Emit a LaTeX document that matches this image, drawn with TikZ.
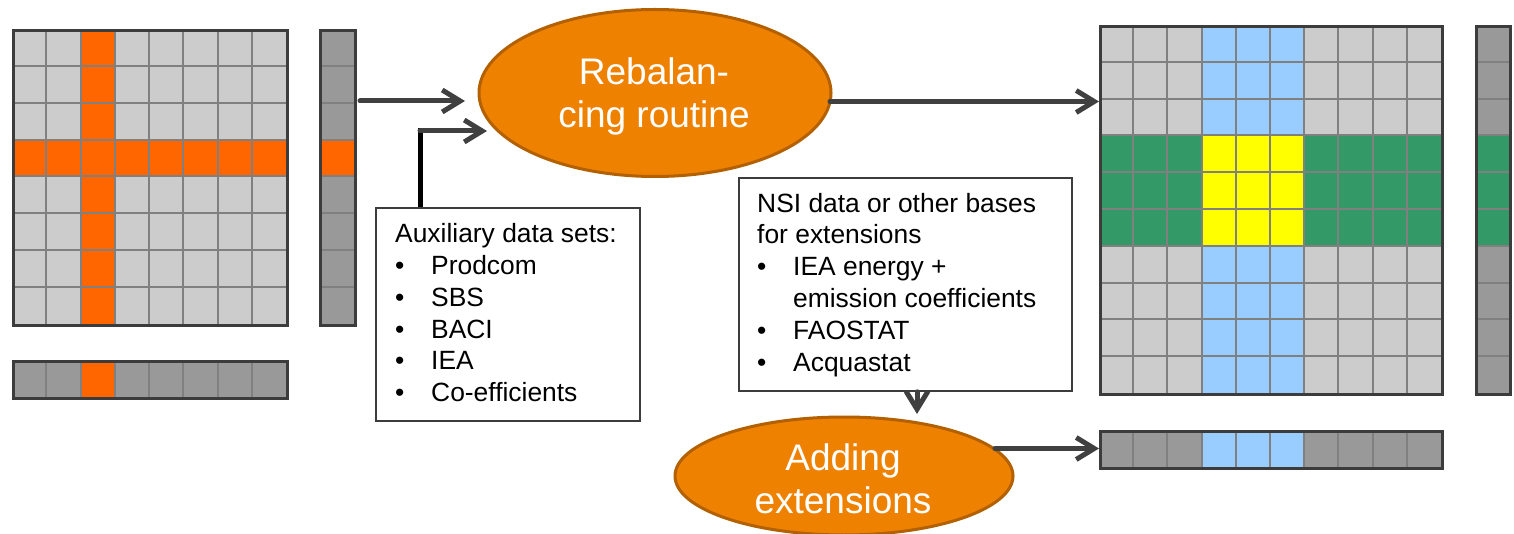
\documentclass[tikz,border=0pt]{standalone}
\usepackage{fontspec}
\setmainfont{Liberation Sans}
\usetikzlibrary{arrows.meta,shapes.geometric}

\definecolor{cellgray}{HTML}{CCCCCC}
\definecolor{vecgray}{HTML}{999999}
\definecolor{gridgray}{HTML}{808080}
\definecolor{edgegray}{HTML}{3C3C3C}
\definecolor{hilite}{HTML}{FF6600}
\definecolor{skyblue}{HTML}{99CCFF}
\definecolor{seagreen}{HTML}{339966}
\definecolor{brightyellow}{HTML}{FFFF00}
\definecolor{ovalfill}{HTML}{EE8100}
\definecolor{ovaledge}{HTML}{B36000}
\definecolor{arrowgray}{HTML}{404040}

\tikzset{
  gridline/.style={draw=gridgray, line width=2pt},
  matedge/.style={draw=edgegray, line width=3pt, inner sep=0pt, anchor=north west},
  oval/.style={ellipse, fill=ovalfill, draw=ovaledge, line width=3pt, inner sep=0pt},
  % multi-line nodes: the base anchor sits on the last line's baseline
  ovaltext/.style={text=white, font=\fontsize{37}{43}\selectfont, align=center, inner sep=0pt, anchor=base},
  databox/.style={draw=edgegray, line width=1.8pt, fill=white, inner sep=0pt, anchor=north west},
  listtext/.style={font=\fontsize{26.4}{31.8}\selectfont, align=left, inner sep=0pt, anchor=base west},
  flow/.style={draw=arrowgray, line width=5pt, line cap=round,
    -{Straight Barb[length=18pt,width=22pt]}},
  feed/.style={draw=black, line width=5pt},
}
\newcommand{\bul}{\makebox[36pt][l]{\textbullet}}

\begin{document}
\begin{tikzpicture}[x=1pt,y=-1pt]
\useasboundingbox (0,0) rectangle (1514,534);

% ---------- input table (8 x 8) with one sector highlighted ----------
\fill[cellgray] (12,29) rectangle (286,324);
\fill[hilite] (80.5,29) rectangle (114.75,324);
\fill[hilite] (12,139.625) rectangle (286,176.5);
\foreach \i in {1,...,7} {
  \draw[gridline] ({12+34.25*\i},29) -- ({12+34.25*\i},324);
  \draw[gridline] (12,{29+36.875*\i}) -- (286,{29+36.875*\i});
}
\node[matedge, minimum width=274, minimum height=295] (lm) at (12,29) {};

% input column vector
\fill[vecgray] (318.5,29) rectangle (353.5,324);
\fill[hilite] (318.5,139.625) rectangle (353.5,176.5);
\foreach \i in {1,...,7}
  \draw[gridline] (318.5,{29+36.875*\i}) -- (353.5,{29+36.875*\i});
\node[matedge, minimum width=35, minimum height=295] (lc) at (318.5,29) {};

% input row vector
\fill[vecgray] (12,360) rectangle (286,397);
\fill[hilite] (80.5,360) rectangle (114.75,397);
\foreach \i in {1,...,7}
  \draw[gridline] ({12+34.25*\i},360) -- ({12+34.25*\i},397);
\node[matedge, minimum width=274, minimum height=37] (lr) at (12,360) {};

% ---------- output table (10 x 10) ----------
\fill[cellgray] (1099,25) rectangle (1441,393);
\fill[skyblue] (1201.6,25) rectangle (1304.2,393);
\fill[seagreen] (1099,135.4) rectangle (1441,245.8);
\fill[brightyellow] (1201.6,135.4) rectangle (1304.2,245.8);
\foreach \i in {1,...,9} {
  \draw[gridline] ({1099+34.2*\i},25) -- ({1099+34.2*\i},393);
  \draw[gridline] (1099,{25+36.8*\i}) -- (1441,{25+36.8*\i});
}
\node[matedge, minimum width=342, minimum height=368] (rm) at (1099,25) {};

% output column vector
\fill[vecgray] (1474.5,25) rectangle (1509,393);
\fill[seagreen] (1474.5,135.4) rectangle (1509,245.8);
\foreach \i in {1,...,9}
  \draw[gridline] (1474.5,{25+36.8*\i}) -- (1509,{25+36.8*\i});
\node[matedge, minimum width=34.5, minimum height=368] (rc) at (1474.5,25) {};

% output row vector (extensions)
\fill[vecgray] (1099,430) rectangle (1441,467);
\fill[skyblue] (1201.6,430) rectangle (1304.2,467);
\foreach \i in {1,...,9}
  \draw[gridline] ({1099+34.2*\i},430) -- ({1099+34.2*\i},467);
\node[matedge, minimum width=342, minimum height=37] (rv) at (1099,430) {};

% ---------- process ovals ----------
\node[oval, minimum width=352, minimum height=167] (rebal) at (655,93) {};
\node[ovaltext] (rebaltxt) at (654,128) {Rebalan-\\cing routine};

\node[oval, minimum width=338, minimum height=118] (ext) at (844,476) {};
\node[ovaltext] (exttxt) at (843,513) {Adding\\extensions};

% ---------- data source boxes ----------
\node[databox, minimum width=264, minimum height=213] (aux) at (375,207) {};
\node[listtext] (auxtxt) at (395,401.7) {Auxiliary data sets:\\
  \bul Prodcom\\ \bul SBS\\ \bul BACI\\ \bul IEA\\ \bul Co-efficients};

\node[databox, minimum width=333, minimum height=213] (nsi) at (738,177) {};
\node[listtext] (nsitxt) at (757,371) {NSI data or other bases\\
  for extensions\\
  \bul IEA energy +\\ \hspace*{36pt}emission coefficients\\
  \bul FAOSTAT\\ \bul Acquastat};

% ---------- connectors ----------
\coordinate (a1s) at (360,101);
\coordinate (a1e) at (465,101);
\draw[flow] (a1s) -- (a1e);

\coordinate (a2c) at (420,131);
\coordinate (a2e) at (487,131);
\draw[feed] (a2c |- aux.north) -- ([yshift=2.5pt]a2c);
\draw[flow] (a2c) -- (a2e);

\coordinate (a3s) at (830,101.5);
\draw[flow] (a3s) -- (a3s -| rm.west);

\coordinate (a4e) at (917,414);
\draw[flow] (a4e |- nsi.south) -- (a4e);

\coordinate (a5s) at (995,448.5);
\draw[flow] (a5s) -- (a5s -| rv.west);
\end{tikzpicture}
\end{document}
